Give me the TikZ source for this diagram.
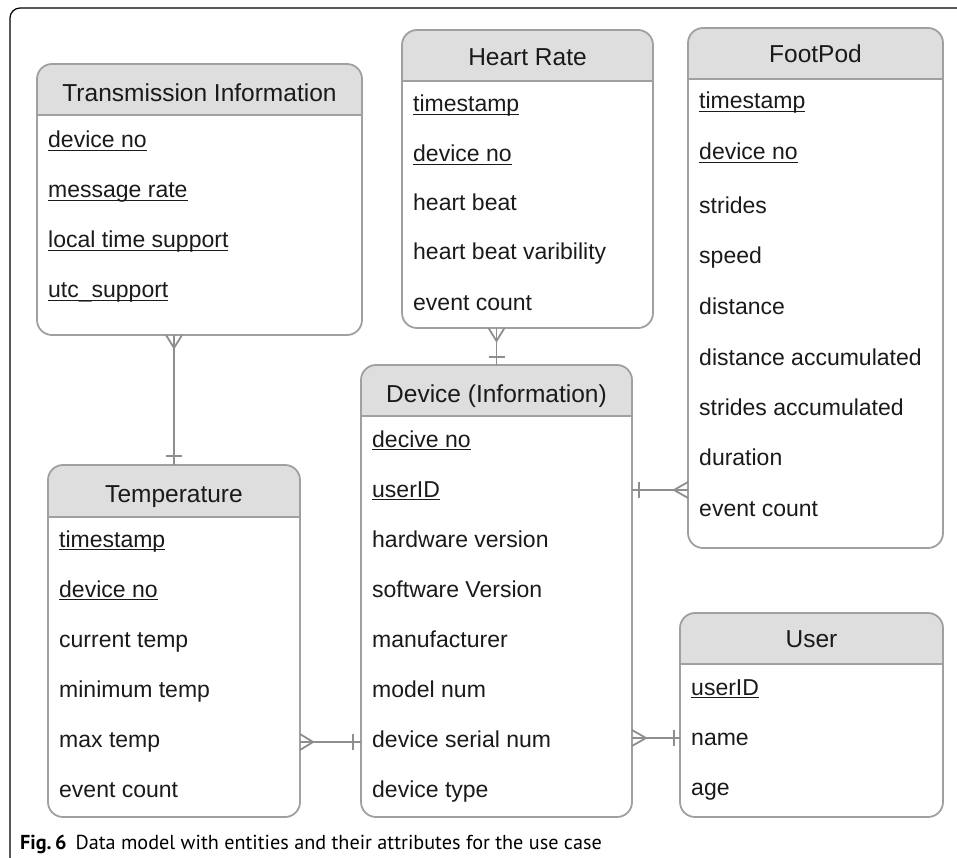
\documentclass[tikz,border=0pt]{standalone}
\usepackage{fontspec}
\setmainfont{Liberation Sans}
\newfontfamily\capfont{PT Sans}
\usetikzlibrary{calc}
\definecolor{boxgray}{HTML}{A0A0A0}
\definecolor{headgray}{HTML}{DEDEDE}
\definecolor{txt}{HTML}{1A1A1A}
\definecolor{conngray}{HTML}{8E8E8E}
\newcommand\ulin[1]{\setbox0\hbox{#1}\rlap{\rule[-3.4pt]{\wd0}{1.3pt}}\box0}
\newcommand\entity[8]{%
  \begin{scope}
    \clip[rounded corners=15pt] (#2,#3) rectangle (#4,#5);
    \fill[headgray] (#2,#3) rectangle (#4,#6);
  \end{scope}
  \draw[boxline] (#2,#6) -- (#4,#6);
  \node[entbox, minimum width={(#4-#2)*1pt}, minimum height={(#5-#3)*1pt}] (#1) at (#2,#3) {};
  \node[ttext] (#1-title) at ({(#2+#4)/2},#8) {#7};
}
\newcommand\attr[4]{\node[rtext] (#1) at (#2,#3) {#4};}
\begin{document}
\begin{tikzpicture}[x=1pt,y=-1pt,
  boxline/.style={draw=boxgray, line width=1.8pt},
  entbox/.style={boxline, rounded corners=15pt, inner sep=0pt, outer sep=0pt, anchor=north west},
  ttext/.style={font=\fontsize{24.5}{28}\selectfont, text=txt, inner sep=0pt, anchor=base},
  rtext/.style={font=\fontsize{23}{27}\selectfont, text=txt, inner sep=0pt, anchor=base west},
  conn/.style={draw=conngray, line width=1.8pt},
]
\useasboundingbox (0,0) rectangle (957,858);
% page frame
\draw[line width=1.2pt, rounded corners=10pt] (10,858) coordinate (fa) -- (10,8) -- (957,8) coordinate (fb);

% entities
\entity{ti}{37}{64}{362}{335}{115}{Transmission Information}{102}
\entity{hr}{402}{30}{653}{328}{81}{Heart Rate}{66}
\entity{fp}{688}{28}{943}{548}{79}{FootPod}{63}
\entity{dev}{361}{365}{632}{817}{416}{Device (Information)}{402}
\entity{te}{48}{465}{300}{817}{517}{Temperature}{502}
\entity{us}{680}{613}{943}{817}{664}{User}{647}

% Transmission Information
\attr{ti1}{48}{148}{\ulin{device no}}
\attr{ti2}{48}{198}{\ulin{message rate}}
\attr{ti3}{48}{248}{\ulin{local time support}}
\attr{ti4}{48}{298}{\ulin{utc\_support}}
% Heart Rate
\attr{hr1}{413}{112}{\ulin{timestamp}}
\attr{hr2}{413}{162}{\ulin{device no}}
\attr{hr3}{413}{211}{heart beat}
\attr{hr4}{413}{260}{heart beat varibility}
\attr{hr5}{413}{310}{event count}
% FootPod
\attr{fp1}{699}{109}{\ulin{timestamp}}
\attr{fp2}{699}{160}{\ulin{device no}}
\attr{fp3}{699}{214}{strides}
\attr{fp4}{699}{264}{speed}
\attr{fp5}{699}{314}{distance}
\attr{fp6}{699}{365}{distance accumulated}
\attr{fp7}{699}{415}{strides accumulated}
\attr{fp8}{699}{465}{duration}
\attr{fp9}{699}{516}{event count}
% Device
\attr{dv1}{372}{447}{\ulin{decive no}}
\attr{dv2}{372}{497}{\ulin{userID}}
\attr{dv3}{372}{547}{hardware version}
\attr{dv4}{372}{597}{software Version}
\attr{dv5}{372}{647}{manufacturer}
\attr{dv6}{372}{697}{model num}
\attr{dv7}{372}{747}{device serial num}
\attr{dv8}{372}{797}{device type}
% Temperature
\attr{te1}{59}{547}{\ulin{timestamp}}
\attr{te2}{59}{597}{\ulin{device no}}
\attr{te3}{59}{647}{current temp}
\attr{te4}{59}{697}{minimum temp}
\attr{te5}{59}{747}{max temp}
\attr{te6}{59}{797}{event count}
% User
\attr{us1}{691}{695}{\ulin{userID}}
\attr{us2}{691}{745}{name}
\attr{us3}{691}{795}{age}

% connector levels
\coordinate (l3) at (0,490);
\coordinate (l4) at (0,742);
\coordinate (l5) at (0,738);

% Transmission -- Temperature
\draw[conn] (te.north) -- (te.north |- ti.south) coordinate (c1);
\draw[conn] ($(c1)+(-8,0)$) -- ($(c1)+(0,13)$) -- ($(c1)+(8,0)$);
\draw[conn] ($(te.north)+(-8,-9)$) -- ($(te.north)+(8,-9)$);

% Heart Rate -- Device
\draw[conn] (dev.north) -- (dev.north |- hr.south) coordinate (c2);
\draw[conn] ($(c2)+(-8,0)$) -- ($(c2)+(0,13)$) -- ($(c2)+(8,0)$);
\draw[conn] ($(dev.north)+(-8,-8)$) -- ($(dev.north)+(8,-8)$);

% Device -- FootPod
\draw[conn] (dev.east |- l3) coordinate (c3a) -- (fp.west |- l3) coordinate (c3b);
\draw[conn] ($(c3a)+(7,-8)$) -- ($(c3a)+(7,8)$);
\draw[conn] ($(c3b)+(0,-8)$) -- ($(c3b)+(-14,0)$) -- ($(c3b)+(0,8)$);

% Temperature -- Device
\draw[conn] (te.east |- l4) coordinate (c4a) -- (dev.west |- l4) coordinate (c4b);
\draw[conn] ($(c4a)+(0,-8)$) -- ($(c4a)+(13,0)$) -- ($(c4a)+(0,8)$);
\draw[conn] ($(c4b)+(-8,-8)$) -- ($(c4b)+(-8,8)$);

% Device -- User
\draw[conn] (dev.east |- l5) coordinate (c5a) -- (us.west |- l5) coordinate (c5b);
\draw[conn] ($(c5a)+(0,-8)$) -- ($(c5a)+(14,0)$) -- ($(c5a)+(0,8)$);
\draw[conn] ($(c5b)+(-6,-8)$) -- ($(c5b)+(-6,8)$);

% caption
\node[anchor=base west, inner sep=0pt] (cap) at (20,849)
  {\capfont\fontsize{20.2}{23}\selectfont\textbf{Fig.\,6}\hspace{0.45em}Data model with entities and their attributes for the use case};
\end{tikzpicture}
\end{document}
